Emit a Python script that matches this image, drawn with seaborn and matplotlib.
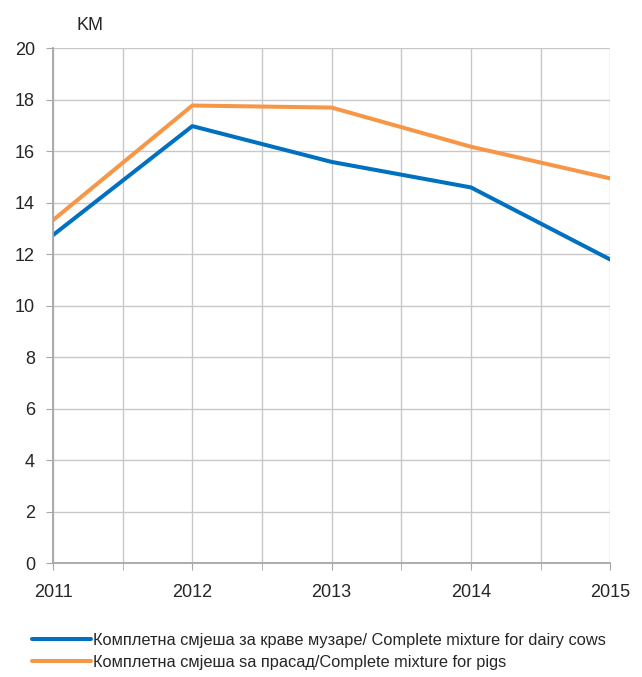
import pandas as pd
import numpy as np
import matplotlib.pyplot as plt
import seaborn as sns

# podaci
years = [2011, 2012, 2013, 2014, 2015]
dairy_cows = [12.74, 16.97, 15.58, 14.59, 11.79]
pigs = [13.32, 17.77, 17.69, 16.17, 14.94]

label_cows = 'Комплетна смјеша за краве музаре/ Complete mixture for dairy cows'
label_pigs = 'Комплетна смјеша sa прасад/Complete mixture for pigs'

df = pd.DataFrame({
    'year': years * 2,
    'price': dairy_cows + pigs,
    'series': [label_cows] * len(years) + [label_pigs] * len(years),
})

sns.set_style('white')
plt.rcParams['font.family'] = ['Liberation Sans', 'DejaVu Sans']

fig = plt.figure(figsize=(6.42, 6.77), dpi=100)
ax = fig.add_axes([0.0826, 0.168, 0.868, 0.761])

sns.lineplot(data=df, x='year', y='price', hue='series',
             palette={label_cows: '#0070C0', label_pigs: '#F79646'},
             linewidth=2.9, ax=ax, legend=True)

ax.set_xlim(2011, 2015)
ax.set_ylim(0, 20)
ax.set_xticks(years)
ax.set_xticks(np.arange(2011.5, 2015, 1), minor=True)
ax.set_yticks(range(0, 21, 2))
ax.grid(True, which='both', color='#c8c8c8', linewidth=1)
ax.set_axisbelow(True)

for side in ['top', 'right']:
    ax.spines[side].set_visible(False)
for side in ['left', 'bottom']:
    ax.spines[side].set_color('#a6a6a6')
    ax.spines[side].set_linewidth(1.3)

ax.tick_params(axis='y', which='major', left=True, length=5, color='#a6a6a6', labelsize=13, pad=8)
ax.tick_params(axis='x', which='both', bottom=True, length=5, color='#a6a6a6', labelsize=13, pad=10)
ax.set_xlabel('')
ax.set_ylabel('')

fig.text(0.14, 0.963, 'KM', fontsize=13, ha='center', va='center')

handles, labels = ax.get_legend_handles_labels()
ax.legend(handles, labels, loc='upper left', bbox_to_anchor=(-0.05, -0.122),
          frameon=False, fontsize=11.8, handlelength=3.6, handletextpad=0.15,
          labelspacing=0.45, borderaxespad=0)

plt.savefig('out.png', dpi=100)
